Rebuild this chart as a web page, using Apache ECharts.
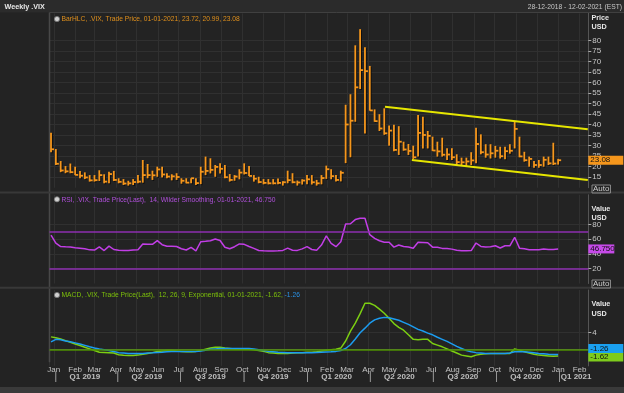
<!DOCTYPE html>
<html><head><meta charset="utf-8">
<script src="https://cdn.jsdelivr.net/npm/echarts@6/dist/echarts.min.js"></script>
<style>html,body{margin:0;padding:0;background:#232323;}#c{width:624px;height:393px;}</style>
</head><body><div id="c"></div>
<script>
const FONT = "'Liberation Sans',Arial,sans-serif";

// ---- DATA ----
const priceHigh = [36.2,28.4,22.7,20.3,21.5,20.0,18.0,17.3,16.0,16.0,
 18.3,16.4,17.6,18.0,14.5,14.1,13.3,14.1,16.0,23.2,
 21.3,18.1,20.0,20.0,16.9,16.4,16.9,14.5,14.5,14.5,
 14.5,20.0,24.8,24.0,20.8,21.6,20.8,16.5,16.0,18.8,
 21.6,20.3,16.0,15.2,14.1,14.1,14.1,14.4,13.1,18.1,
 16.9,13.4,14.0,16.0,16.0,13.7,16.0,20.5,18.8,16.0,
 18.1,49.5,54.5,77.8,85.5,76.9,68.0,47.3,45.0,47.8,
 39.6,40.0,39.3,31.9,30.8,30.0,44.6,43.8,37.0,34.3,
 31.9,33.8,28.8,28.8,25.9,24.3,24.3,26.9,38.6,35.4,
 30.7,30.7,29.9,29.5,29.5,30.7,41.4,34.3,27.1,24.8,
 22.7,23.2,24.8,24.8,31.4,23.72];
const priceLow = [26.9,20.8,17.4,16.9,16.9,16.0,14.5,14.1,12.9,12.9,
 13.2,12.1,12.1,13.2,12.1,11.3,11.0,11.3,12.1,12.4,
 14.5,13.7,15.2,14.9,14.5,13.5,13.7,11.9,12.1,12.1,
 11.3,11.7,16.0,16.8,15.2,16.8,14.5,12.9,13.3,14.0,
 16.3,15.6,12.9,12.1,11.6,11.6,11.6,11.6,11.0,12.1,
 12.1,11.0,11.5,11.6,11.5,11.0,11.6,14.2,14.0,12.9,
 13.0,21.7,24.5,41.4,57.0,35.8,46.7,41.4,37.0,35.2,
 30.0,27.3,25.6,27.6,25.6,23.6,24.8,28.7,28.7,27.5,
 24.8,24.8,23.2,23.2,20.8,20.8,20.4,20.8,21.6,25.9,
 24.3,23.9,24.3,23.9,23.5,26.2,28.7,24.5,22.4,20.0,
 19.5,19.5,20.0,20.8,20.8,20.99];
const priceClose = [28.3,21.4,18.2,17.8,17.4,16.1,15.7,14.9,13.5,13.6,
 16.0,12.9,16.5,13.7,12.8,12.0,12.1,12.7,12.9,16.0,
 16.0,15.9,18.7,16.3,15.3,15.4,15.1,13.3,12.4,14.5,
 12.2,17.6,18.0,18.5,19.9,19.0,15.0,13.7,15.3,17.2,
 17.0,15.6,14.3,12.7,12.3,12.1,12.1,12.3,12.6,13.6,
 12.6,12.5,13.4,14.0,12.6,12.1,14.6,18.8,15.5,13.7,
 17.1,40.1,41.9,57.8,66.0,65.5,46.8,41.7,38.2,35.9,
 37.2,28.0,31.9,28.2,27.5,24.5,36.1,35.1,34.7,27.7,
 27.3,25.7,25.8,24.5,22.2,22.1,22.5,23.0,30.8,26.9,
 25.8,26.4,27.6,25.0,27.4,27.6,38.0,24.9,23.1,23.7,
 20.8,20.8,23.3,21.6,21.5,23.08];
const rsiValues = [65.6,54.5,50.0,49.6,49.5,48.5,47.8,47.0,45.5,45.2,
 49.5,44.6,50.5,46.0,45.0,44.6,44.5,45.4,45.6,53.4,
 53.2,53.0,57.9,52.5,50.5,50.4,50.0,47.0,45.3,49.0,
 44.2,56.5,57.0,57.8,60.2,58.2,49.0,47.0,49.8,53.5,
 53.0,50.0,47.5,44.6,44.2,44.1,44.1,44.4,44.8,47.8,
 45.0,44.8,46.8,49.8,46.0,44.9,52.0,64.5,54.4,49.8,
 56.5,80.5,80.8,86.5,88.4,88.2,66.0,61.0,57.8,55.8,
 55.7,49.2,52.0,50.0,49.5,47.6,55.7,55.6,55.2,49.2,
 49.0,47.5,47.5,46.5,45.0,44.4,44.3,44.5,54.8,50.2,
 49.5,49.6,51.0,48.0,51.0,51.0,62.5,47.8,47.0,45.8,
 45.5,45.8,46.8,46.0,46.0,46.75];
const macdValues = [3.0,2.8,2.5,2.1,1.7,1.3,0.9,0.5,0.1,-0.3,
 -0.7,-0.75,-0.8,-0.9,-1.3,-1.45,-1.5,-1.5,-1.4,-1.2,
 -1.0,-0.8,-0.5,-0.4,-0.3,-0.3,-0.4,-0.5,-0.6,-0.6,
 -0.5,-0.3,0.0,0.3,0.5,0.5,0.3,0.2,0.1,0.07,
 0.0,0.0,-0.1,-0.3,-0.5,-0.8,-0.9,-1.0,-1.0,-1.0,
 -0.9,-0.8,-0.8,-0.7,-0.7,-0.6,-0.4,-0.2,-0.1,0.0,
 0.3,2.0,4.4,6.3,8.6,11.1,11.1,10.6,9.7,8.7,
 7.5,6.2,5.3,4.6,3.5,2.4,2.3,2.4,2.4,1.4,
 1.0,0.6,0.1,-0.4,-0.9,-1.4,-1.6,-1.8,-1.4,-1.2,
 -1.1,-1.0,-1.0,-1.0,-1.0,-1.0,0.1,-0.2,-0.6,-0.9,
 -1.2,-1.4,-1.5,-1.6,-1.7,-1.62];
const signalValues = [1.8,2.4,2.3,2.0,1.8,1.55,1.3,0.95,0.6,0.3,
 0.07,-0.1,-0.3,-0.55,-0.8,-0.9,-1.0,-1.0,-1.0,-1.0,
 -0.9,-0.85,-0.75,-0.7,-0.6,-0.55,-0.5,-0.5,-0.55,-0.55,
 -0.5,-0.4,-0.2,0.0,0.1,0.2,0.2,0.2,0.2,0.2,
 0.2,0.2,0.1,-0.1,-0.3,-0.5,-0.6,-0.7,-0.75,-0.8,
 -0.8,-0.8,-0.8,-0.8,-0.8,-0.75,-0.7,-0.65,-0.6,-0.5,
 -0.3,0.2,1.1,2.5,4.0,5.1,6.3,7.1,7.5,7.7,
 7.6,7.3,7.0,6.5,6.0,5.4,4.8,4.4,3.9,3.5,
 2.9,2.4,1.9,1.3,0.7,0.2,-0.3,-0.6,-0.8,-0.9,
 -1.0,-1.0,-1.0,-1.0,-1.0,-0.9,-0.6,-0.5,-0.6,-0.7,
 -0.85,-1.0,-1.1,-1.2,-1.25,-1.26];
const upperChannel = [['2020-04-25', 48.6], ['2021-02-13', 37.8]];
const lowerChannel = [['2020-06-03', 23.2], ['2021-02-13', 13.7]];
const quarterStarts = ['2019-01-01','2019-04-01','2019-07-01','2019-10-01','2020-01-01','2020-04-01','2020-07-01','2020-10-01'];
const quarterMids = ['2019-02-15','2019-05-16','2019-08-16','2019-11-15','2020-02-15','2020-05-16','2020-08-16','2020-11-15'];
const quarterNames = ['Q1 2019','Q2 2019','Q3 2019','Q4 2019','Q1 2020','Q2 2020','Q3 2020','Q4 2020'];
const nextQuarter = ['2021-01-01', 'Q1 2021'];
const priceTicks = [15,20,25,30,35,40,45,50,55,60,65,70,75,80];
const rsiTicks = [20,40,60,80];
const macdTicks = [4];
const lastPrice = 23.08, lastRsi = 46.75, lastMacd = -1.62, lastSignal = -1.26;

// weekly bar dates (Fridays from 28-12-2018)
const weeks = priceClose.map((_, i) => new Date(2018, 11, 28 + 7 * i).getTime());

const DAY = 86400000;
const xMin = new Date(2018, 11, 25, 19).getTime();
const xMax = new Date(2021, 1, 13, 17).getTime();
const GRID_L = 49.5, GRID_R = 35.7;

function xAxisCfg(gi, showLabels, hideAll) {
  return {
    type: 'time', gridIndex: gi, min: xMin, max: xMax,
    minInterval: 28 * DAY, maxInterval: 31 * DAY, show: !hideAll,
    offset: showLabels ? -3.6 : 0,
    axisLine: { show: showLabels, lineStyle: { color: '#6a6a6a', width: 1 } },
    axisTick: { show: false },
    axisLabel: { show: showLabels, formatter: '{MMM}', color: '#c4c4c4', fontSize: 8, fontFamily: FONT,
      margin: 3, interval: 0, hideOverlap: false, showMinLabel: false, showMaxLabel: false },
    splitLine: { show: !hideAll, lineStyle: { color: '#303030', width: 1 } }
  };
}
function yAxisCfg(gi, min, max, interval, ticks) {
  return {
    type: 'value', gridIndex: gi, position: 'right', min, max, interval,
    axisLine: { show: true, lineStyle: { color: '#555' } },
    axisTick: { show: true, length: 3, lineStyle: { color: '#aaa' }, customValues: ticks },
    axisLabel: { color: '#c8c8c8', fontSize: 8, fontFamily: FONT, margin: 4, customValues: ticks },
    splitLine: { show: true, lineStyle: { color: '#303030' } }
  };
}
const HIDDEN_LINE = { color: 'rgba(0,0,0,0)', width: 0 };
function boxItem(value, text, bg, width, dy) {
  return { yAxis: value, lineStyle: HIDDEN_LINE,
    label: { show: true, position: 'end', formatter: text, backgroundColor: bg, color: '#111',
      fontSize: 8, fontFamily: FONT, padding: [1, 2, 0, 2], width: width, distance: 0,
      offset: [0, dy || 0], opacity: 1 } };
}

const priceData = weeks.map((t, i) => [t, priceHigh[i], priceLow[i], priceClose[i]]);

const chart = echarts.init(document.getElementById('c'), null, { renderer: 'canvas' });
const txt = (text, x, y, fill, sx, extra) => ({ type: 'text', x, y, z: 10, scaleX: sx || 1,
  style: Object.assign({ text, fill, font: '8px ' + FONT, verticalAlign: 'middle' }, extra || {}) });

chart.setOption({
  animation: false,
  backgroundColor: '#232323',
  grid: [
    { left: GRID_L, right: GRID_R, top: 13.4, height: 174.3 },
    { left: GRID_L, right: GRID_R, top: 194.8, height: 88.7 },
    { left: GRID_L, right: GRID_R, top: 290, height: 75.9 },
    { left: GRID_L, right: GRID_R, top: 370, height: 14 }
  ],
  xAxis: [xAxisCfg(0, false), xAxisCfg(1, false), xAxisCfg(2, true), xAxisCfg(3, false, true)],
  yAxis: [
    yAxisCfg(0, 10, 93, 5, priceTicks),
    yAxisCfg(1, 0, 120, 20, rsiTicks),
    yAxisCfg(2, -4, 14.3, 4, macdTicks),
    { type: 'value', gridIndex: 3, min: 0, max: 1, show: false }
  ],
  series: [
    {
      type: 'custom', xAxisIndex: 0, yAxisIndex: 0, data: priceData,
      dimensions: [{ name: 'date', type: 'time' }, 'high', 'low', 'close'],
      encode: { x: 0, y: [1, 2, 3] },
      renderItem(params, api) {
        const t = api.value(0);
        const hi = api.coord([t, api.value(1)]);
        const lo = api.coord([t, api.value(2)]);
        const cl = api.coord([t, api.value(3)]);
        const c = '#f5961c';
        return { type: 'group', children: [
          { type: 'line', shape: { x1: hi[0] + 1, y1: hi[1] + 1, x2: lo[0] + 1, y2: lo[1] + 1 }, style: { stroke: '#0d0d0d', lineWidth: 1.5 } },
          { type: 'line', shape: { x1: hi[0], y1: hi[1], x2: lo[0], y2: lo[1] }, style: { stroke: c, lineWidth: 1.8 } },
          { type: 'line', shape: { x1: cl[0], y1: cl[1], x2: cl[0] + 3, y2: cl[1] }, style: { stroke: c, lineWidth: 1.8 } }
        ]};
      }
    },
    { type: 'line', xAxisIndex: 0, yAxisIndex: 0, data: upperChannel, symbol: 'none',
      lineStyle: { color: '#e6e600', width: 2 },
      markLine: { silent: true, symbol: 'none', data: [boxItem(lastPrice, '23.08', '#f5961c', 31, 0)] } },
    { type: 'line', xAxisIndex: 0, yAxisIndex: 0, data: lowerChannel, symbol: 'none',
      lineStyle: { color: '#e6e600', width: 2 } },
    { type: 'line', xAxisIndex: 1, yAxisIndex: 1, data: weeks.map((t, i) => [t, rsiValues[i]]), symbol: 'none',
      lineStyle: { color: '#c23ee6', width: 1.5 },
      markLine: { silent: true, symbol: 'none',
        data: [
          { yAxis: 70, lineStyle: { color: '#8e2fb0', width: 1.5, type: 'solid' }, label: { show: false } },
          { yAxis: 20, lineStyle: { color: '#8e2fb0', width: 1.5, type: 'solid' }, label: { show: false } },
          boxItem(lastRsi, '46.750', '#c64ae8', 22, 0)
        ] } },
    { type: 'line', xAxisIndex: 2, yAxisIndex: 2, data: weeks.map((t, i) => [t, macdValues[i]]), symbol: 'none',
      lineStyle: { color: '#7ccf12', width: 1.5 },
      markLine: { silent: true, symbol: 'none',
        data: [
          { yAxis: 0, lineStyle: { color: '#4d8f00', width: 1.5, type: 'solid' }, label: { show: false } },
          boxItem(lastMacd, '-1.62', '#7ecb1c', 31, 1)
        ] } },
    { type: 'line', xAxisIndex: 2, yAxisIndex: 2, data: weeks.map((t, i) => [t, signalValues[i]]), symbol: 'none',
      lineStyle: { color: '#1c9cf0', width: 1.5 },
      markLine: { silent: true, symbol: 'none', data: [boxItem(lastSignal, '-1.26', '#1aa0f0', 31, -6)] } },
    { type: 'scatter', xAxisIndex: 3, yAxisIndex: 3, symbolSize: 1, itemStyle: { color: 'transparent' },
      data: quarterMids.map((d, i) => [d, 0.5, quarterNames[i]]),
      label: { show: true, position: 'inside', formatter: p => p.value[2], color: '#e4e4e4',
        fontWeight: 'bold', fontSize: 8, fontFamily: FONT } },
    { type: 'scatter', xAxisIndex: 3, yAxisIndex: 3, symbolSize: 1, itemStyle: { color: 'transparent' },
      data: quarterStarts.map(d => [d, 0.5]),
      label: { show: true, position: 'inside', formatter: '|', color: '#d0d0d0', fontSize: 10, offset: [2, 0] } },
    { type: 'scatter', xAxisIndex: 3, yAxisIndex: 3, symbolSize: 1, itemStyle: { color: 'transparent' },
      data: [[nextQuarter[0], 0.5, nextQuarter[1]]],
      label: { show: true, position: 'inside', align: 'left', offset: [0, 0],
        formatter: p => '{s||}{q|' + p.value[2] + '}',
        rich: { s: { color: '#d0d0d0', fontSize: 10 }, q: { color: '#e4e4e4', fontWeight: 'bold', fontSize: 8, fontFamily: FONT } } } }
  ],
  graphic: [
    { type: 'rect', shape: { x: 0, y: 0, width: 624, height: 12.5 }, style: { fill: '#2b2b2b' }, z: 0 },
    { type: 'line', shape: { x1: GRID_L, y1: 12.5, x2: 624, y2: 12.5 }, style: { stroke: '#404040', lineWidth: 1 }, z: 1 },
    { type: 'line', shape: { x1: GRID_L, y1: 12.5, x2: GRID_L, y2: 362.3 }, style: { stroke: '#484848', lineWidth: 1.5 }, z: 1 },
    { type: 'rect', shape: { x: 0, y: 191.5, width: 624, height: 2 }, style: { fill: '#383838' }, z: 1 },
    { type: 'rect', shape: { x: 0, y: 286.8, width: 624, height: 2 }, style: { fill: '#383838' }, z: 1 },
    { type: 'rect', shape: { x: 0, y: 387, width: 624, height: 6 }, style: { fill: '#3a3a3a' }, z: 1 },
    txt('Weekly .VIX', 4.5, 7, '#e8e8e8', 0.9, { font: 'bold 8px ' + FONT }),
    txt('28-12-2018 - 12-02-2021 (EST)', 622, 7, '#c8c8c8', 0.84, { align: 'right' }),
    { type: 'circle', shape: { cx: 57, cy: 19, r: 2.6 }, style: { fill: '#d0d0d0', stroke: '#777', lineWidth: 0.8 }, z: 10 },
    txt('BarHLC, .VIX, Trade Price, 01-01-2021, 23.72, 20.99, 23.08', 61.5, 19, '#e0901c', 0.84),
    { type: 'circle', shape: { cx: 57, cy: 199.3, r: 2.6 }, style: { fill: '#d0d0d0', stroke: '#777', lineWidth: 0.8 }, z: 10 },
    txt('RSI, .VIX, Trade Price(Last),  14, Wilder Smoothing, 01-01-2021, 46.750', 61.5, 199.3, '#b150dc', 0.835),
    { type: 'circle', shape: { cx: 57, cy: 295, r: 2.6 }, style: { fill: '#d0d0d0', stroke: '#777', lineWidth: 0.8 }, z: 10 },
    { type: 'text', x: 61.5, y: 295, z: 10, scaleX: 0.84, style: {
        text: '{g|MACD, .VIX, Trade Price(Last),  12, 26, 9, Exponential, 01-01-2021, -1.62, }{b|-1.26}',
        font: '8px ' + FONT, verticalAlign: 'middle',
        rich: { g: { fill: '#7cc00a', font: '8px ' + FONT }, b: { fill: '#2a92e6', font: '8px ' + FONT } } } },
    txt('Price', 591.5, 17.3, '#e6e6e6', 0.9, { font: 'bold 8px ' + FONT }),
    txt('USD', 591.5, 26.3, '#e6e6e6', 0.9, { font: 'bold 8px ' + FONT }),
    txt('Value', 591.5, 208.7, '#e6e6e6', 0.9, { font: 'bold 8px ' + FONT }),
    txt('USD', 591.5, 218, '#e6e6e6', 0.9, { font: 'bold 8px ' + FONT }),
    txt('Value', 591.5, 304, '#e6e6e6', 0.9, { font: 'bold 8px ' + FONT }),
    txt('USD', 591.5, 313.3, '#e6e6e6', 0.9, { font: 'bold 8px ' + FONT }),
    { type: 'text', x: 592, y: 189, z: 10, style: { text: 'Auto', fill: '#d0d0d0', font: '8px ' + FONT,
        verticalAlign: 'middle', borderColor: '#8a8a8a', borderWidth: 1, padding: [0, 1, 0, 1] } },
    { type: 'text', x: 592, y: 284, z: 10, style: { text: 'Auto', fill: '#d0d0d0', font: '8px ' + FONT,
        verticalAlign: 'middle', borderColor: '#8a8a8a', borderWidth: 1, padding: [0, 1, 0, 1] } }
  ]
});
</script></body></html>
